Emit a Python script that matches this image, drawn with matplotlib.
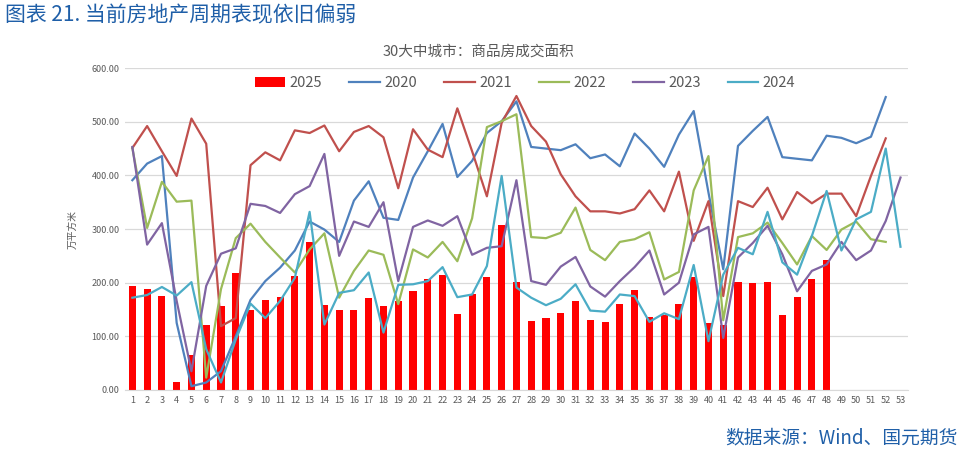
import numpy as np
import matplotlib
matplotlib.use('Agg')
import matplotlib.pyplot as plt
from matplotlib.patches import Patch
from matplotlib.lines import Line2D

plt.rcParams['font.family'] = ['Noto Sans CJK SC', 'DejaVu Sans']

# data (万平方米), weeks 1..53
weeks = list(range(1, 54))
week_labels = [str(w) for w in weeks]

y2025 = [194, 188, 176, 14, 66, 121, 156, 218, 150, 168,
         174, 213, 276, 159, 150, 150, 172, 156, 165, 184,
         207, 214, 142, 178, 211, 307, 202, 129, 134, 143,
         166, 131, 127, 161, 186, 136, 139, 161, 211, 125,
         122, 202, 200, 202, 140, 173, 206, 242]

y2020 = [391, 422, 436, 125, 7, 14, 35, 100, 168, 203,
         228, 260, 314, 299, 276, 353, 389, 321, 317, 396,
         445, 496, 397, 427, 479, 501, 538, 453, 450, 447,
         458, 432, 439, 417, 478, 450, 416, 476, 520, 368,
         225, 455, 483, 509, 434, 431, 428, 474, 470, 460,
         472, 546]

y2021 = [451, 492, 445, 399, 506, 459, 119, 134, 419, 443,
         428, 484, 479, 493, 445, 481, 492, 471, 376, 486,
         448, 434, 525, 445, 361, 498, 548, 492, 463, 402,
         361, 333, 333, 329, 337, 372, 333, 407, 278, 352,
         175, 352, 341, 377, 318, 369, 348, 366, 366, 324,
         399, 469]

y2022 = [451, 302, 388, 351, 353, 23, 188, 283, 310, 276,
         247, 219, 262, 292, 172, 222, 260, 252, 160, 262,
         247, 276, 240, 320, 490, 501, 514, 285, 283, 293,
         340, 261, 242, 276, 281, 294, 206, 220, 372, 436,
         130, 285, 292, 312, 274, 234, 287, 261, 299, 314,
         281, 276]

y2023 = [453, 271, 311, 166, 35, 194, 254, 264, 347, 343,
         330, 365, 380, 440, 250, 314, 304, 350, 203, 304,
         316, 306, 324, 252, 265, 268, 391, 203, 196, 230,
         248, 193, 174, 203, 229, 260, 178, 200, 290, 304,
         97, 247, 274, 306, 253, 184, 222, 234, 276, 242,
         260, 315, 396]

y2024 = [172, 177, 192, 176, 201, 76, 14, 94, 161, 134,
         166, 209, 332, 122, 181, 186, 219, 107, 196, 197,
         203, 229, 173, 178, 231, 399, 191, 172, 158, 170,
         197, 148, 146, 178, 175, 127, 143, 132, 233, 91,
         215, 265, 253, 332, 238, 215, 287, 371, 260, 318,
         332, 450, 267]

series = [('2020', y2020, '#4f81bd'),
          ('2021', y2021, '#c0504d'),
          ('2022', y2022, '#9bbb59'),
          ('2023', y2023, '#8064a2'),
          ('2024', y2024, '#4bacc6')]

fig = plt.figure(figsize=(9.71, 4.51), dpi=100)
ax = fig.add_axes([0.1287, 0.1353, 0.8063, 0.7137])

ax.bar(weeks[:len(y2025)], y2025, width=0.48, color='#ff0000', zorder=2)
for name, vals, c in series:
    ax.plot(weeks[:len(vals)], vals, color=c, lw=1.6, zorder=3)

ax.set_xlim(0.5, 53.5)
ax.set_ylim(0, 600)
ax.set_yticks(np.arange(0, 601, 100))
ax.set_yticklabels(['%.2f' % v for v in np.arange(0, 601, 100)], fontsize=6.5, color='#595959')
ax.set_xticks(weeks)
ax.set_xticklabels(week_labels, fontsize=6.5, color='#595959')
ax.tick_params(axis='both', length=0, pad=4)
ax.grid(axis='y', color='#d9d9d9', lw=0.9, zorder=0)
for s in ['top', 'right', 'left']:
    ax.spines[s].set_visible(False)
ax.spines['bottom'].set_color('#d9d9d9')
ax.set_axisbelow(True)

ax.set_ylabel('万平方米', fontsize=7, color='#595959', labelpad=10)

# chart subtitle sits left of the axes centre
fig.text(383 / 971, 1 - 52 / 451, '30大中城市：商品房成交面积', fontsize=10.5,
         color='#595959', ha='left', va='center')

handles = [Patch(facecolor='#ff0000', label='2025')]
for name, vals, c in series:
    handles.append(Line2D([0], [0], color=c, lw=1.6, label=name))
ax.legend(handles=handles, ncol=6, loc='center', bbox_to_anchor=(0.511, 0.953),
          frameon=False, fontsize=10.5, labelcolor='#595959', handlelength=2.1,
          handleheight=0.7, columnspacing=1.85, handletextpad=0.3)

fig.text(0.005, 0.965, '图表 21. 当前房地产周期表现依旧偏弱', fontsize=15,
         color='#1f5fa8', ha='left', va='center')
fig.text(0.986, 0.03, '数据来源：Wind、国元期货', fontsize=13.5,
         color='#1f5fa8', ha='right', va='center')

fig.savefig('out.png', dpi=100)
